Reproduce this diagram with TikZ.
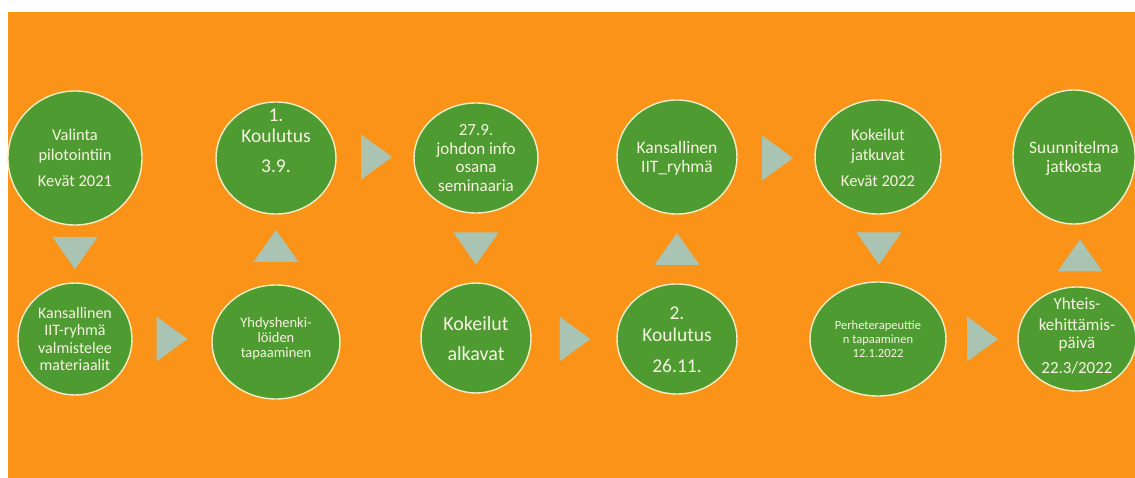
\documentclass[tikz,border=0pt]{standalone}
\usepackage{fontspec}
\setmainfont{Carlito}
\usetikzlibrary{shapes.geometric}
\definecolor{bgorange}{HTML}{FA9317}
\definecolor{cgreen}{HTML}{4E9B32}
\definecolor{cedge}{HTML}{F2EEC4}
\definecolor{ctext}{HTML}{F6F4E0}
\definecolor{ctri}{HTML}{AAC4B4}
\tikzset{
  x=1pt, y=-1pt,
  circ/.style={ellipse, fill=cgreen, draw=cedge, line width=1.4pt, inner sep=0pt},
  lbl/.style={text=ctext, align=center, inner sep=0pt},
  tri/.style={fill=ctri},
  rtri/.pic={\fill[tri] (-15.5,-22.5) -- (15.5,0) -- (-15.5,22.5) -- cycle;},
  dtri/.pic={\fill[tri] (-22.5,-16) -- (22.5,-16) -- (0,16) -- cycle;},
  utri/.pic={\fill[tri] (-22.5,16) -- (22.5,16) -- (0,-16) -- cycle;},
}
\newcommand{\fs}[1]{\fontsize{#1}{#1}\selectfont}
\begin{document}
\begin{tikzpicture}
\useasboundingbox (0,0) rectangle (1135,478);
\fill[white] (0,0) rectangle (1135,478);
\fill[bgorange] (8,12) rectangle (1135,478);

% top row
\node[circ, minimum width=134pt, minimum height=134pt] (t1) at (75,158) {};
\node[lbl, font=\fs{16.5}] at (75,158) {Valinta\\[3pt]pilotointiin\\[9.5pt]Kevät 2021};
\node[circ, minimum width=120pt, minimum height=112pt] (t2) at (276,158) {};
\node[lbl, font=\fs{19.5}] at (276,141) {1.\\[1.5pt]Koulutus\\[10.5pt]3.9.};
\node[circ, minimum width=124pt, minimum height=110pt] (t3) at (476,158) {};
\node[lbl, font=\fs{17}] at (476,158) {27.9.\\[1.5pt]johdon info\\[1.5pt]osana\\[1.5pt]seminaaria};
\node[circ, minimum width=120pt, minimum height=114pt] (t4) at (677,157) {};
\node[lbl, font=\fs{17.5}] at (677,158) {Kansallinen\\[1.5pt]IIT\_ryhmä};
\node[circ, minimum width=126pt, minimum height=114pt] (t5) at (878,157) {};
\node[lbl, font=\fs{16.5}] at (878,158) {Kokeilut\\[3pt]jatkuvat\\[9.5pt]Kevät 2022};
\node[circ, minimum width=122pt, minimum height=134pt] (t6) at (1074,157) {};
\node[lbl, font=\fs{17.5}] at (1074,158) {Suunnitelma\\[1.5pt]jatkosta};

% bottom row
\node[circ, minimum width=114pt, minimum height=112pt] (b1) at (75,339) {};
\node[lbl, font=\fs{16}] at (75,339) {Kansallinen\\[1.3pt]IIT-ryhmä\\[1.3pt]valmistelee\\[1.3pt]materiaalit};
\node[circ, minimum width=128pt, minimum height=114pt] (b2) at (276,342) {};
\node[lbl, font=\fs{14.5}] at (276,339) {Yhdyshenki-\\[0.5pt]löiden\\[0.5pt]tapaaminen};
\node[circ, minimum width=110pt, minimum height=110pt] (b3) at (476,338) {};
\node[lbl, font=\fs{20}] at (476,339) {Kokeilut\\[10pt]alkavat};
\node[circ, minimum width=120pt, minimum height=110pt] (b4) at (677,339) {};
\node[lbl, font=\fs{19.5}] at (677,339.5) {2.\\[2.5pt]Koulutus\\[11.5pt]26.11.};
\node[circ, minimum width=136pt, minimum height=114pt] (b5) at (878,339) {};
\node[lbl, font=\fs{12.5}] at (878,339) {Perheterapeuttie\\[1.5pt]n tapaaminen\\[1pt]12.1.2022};
\node[circ, minimum width=118pt, minimum height=104pt] (b6) at (1077,339) {};
\node[lbl, font=\fs{17}] at (1077,336) {Yhteis-\\[4pt]kehittämis-\\[1pt]päivä\\[8pt]22.3/2022};

% triangles
\pic at (75,253) {dtri};
\pic at (276,246) {utri};
\pic at (376.5,157) {rtri};
\pic at (172,339) {rtri};
\pic at (476,248.5) {dtri};
\pic at (575,339) {rtri};
\pic at (677,249) {utri};
\pic at (777.5,158) {rtri};
\pic at (879,248.5) {dtri};
\pic at (982.5,339) {rtri};
\pic at (1080,255.5) {utri};
\end{tikzpicture}
\end{document}
